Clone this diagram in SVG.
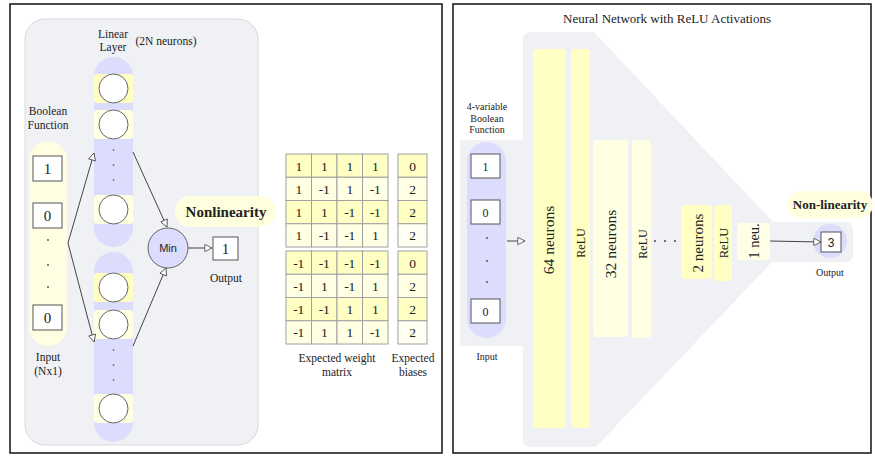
<svg xmlns="http://www.w3.org/2000/svg" width="875" height="456" viewBox="0 0 875 456">
<defs>
<style>
.t{font-family:"Liberation Serif","Times New Roman",serif;fill:#222;text-anchor:middle}
.s{font-family:"Liberation Sans",Arial,sans-serif;fill:#222;text-anchor:middle}
.panel{fill:#fff;stroke:#111;stroke-width:1.5}
.gray{fill:#f0f1f4}
.lav{fill:#dcdcfc}
.y1{fill:#ffffc4}
.y2{fill:#ffffe4}
.box{fill:#fff;stroke:#555;stroke-width:1}
.neu{fill:#fff;stroke:#666;stroke-width:1}
.cell{stroke:#a0a0a0;stroke-width:1}
.conn{fill:none;stroke:#444;stroke-width:1}
.dot{fill:#444}
</style>
<marker id="arr" viewBox="0 0 10 10" refX="9.5" refY="5" markerWidth="9" markerHeight="8" markerUnits="userSpaceOnUse" orient="auto">
<path d="M0.5,0.5 L9.5,5 L0.5,9.5 Z" fill="#fff" stroke="#444" stroke-width="1"/>
</marker>
</defs>

<!-- LEFT PANEL -->
<g id="left-panel">
<rect class="panel" x="10" y="4" width="432" height="449"/>
<rect x="25" y="19" width="233" height="426" rx="20" fill="#f0f1f4" stroke="#d8dae0"/>
</g>

<g id="input-column">
<rect x="29" y="141" width="38" height="205" rx="19" fill="#fffee3"/>
<rect class="box" x="33" y="156" width="29" height="25"/>
<text class="t" x="47.5" y="174" font-size="15">1</text>
<rect class="box" x="33" y="203" width="29" height="25"/>
<text class="t" x="47.5" y="221" font-size="15">0</text>
<circle class="dot" cx="48" cy="240" r="0.9"/>
<circle class="dot" cx="48" cy="265" r="0.9"/>
<circle class="dot" cx="48" cy="287" r="0.9"/>
<rect class="box" x="33" y="305" width="29" height="25"/>
<text class="t" x="47.5" y="323" font-size="15">0</text>
<text class="t" x="48" y="115" font-size="11.5">Boolean</text>
<text class="t" x="48" y="129" font-size="11.5">Function</text>
<text class="t" x="48" y="361" font-size="11.5">Input</text>
<text class="t" x="48" y="375" font-size="11.5">(Nx1)</text>
</g>

<g id="linear-layer-top">
<rect class="lav" x="94" y="57" width="39" height="190" rx="19.5"/>
<rect class="y1" x="94" y="74" width="39" height="29" rx="3"/>
<circle class="neu" cx="113.5" cy="88.5" r="14.5"/>
<rect class="y2" x="94" y="110" width="39" height="29" rx="3"/>
<circle class="neu" cx="113.5" cy="124.5" r="14.5"/>
<circle class="dot" cx="113.5" cy="150" r="0.8"/>
<circle class="dot" cx="113.5" cy="165" r="0.8"/>
<circle class="dot" cx="113.5" cy="180" r="0.8"/>
<rect class="y2" x="94" y="195" width="39" height="29" rx="3"/>
<circle class="neu" cx="113.5" cy="209.5" r="14.5"/>
<text class="t" x="113" y="38" font-size="11.5">Linear</text>
<text class="t" x="113" y="51" font-size="11.5">Layer</text>
<text class="t" x="166" y="45" font-size="11.5">(2N neurons)</text>
</g>

<g id="linear-layer-bottom">
<rect class="lav" x="94" y="252" width="39" height="190" rx="19.5"/>
<rect class="y1" x="94" y="273" width="39" height="29" rx="3"/>
<circle class="neu" cx="113.5" cy="287.5" r="14.5"/>
<rect class="y2" x="94" y="310" width="39" height="29" rx="3"/>
<circle class="neu" cx="113.5" cy="324.5" r="14.5"/>
<circle class="dot" cx="113.5" cy="350" r="0.8"/>
<circle class="dot" cx="113.5" cy="365" r="0.8"/>
<circle class="dot" cx="113.5" cy="380" r="0.8"/>
<rect class="y2" x="94" y="394" width="39" height="29" rx="3"/>
<circle class="neu" cx="113.5" cy="408.5" r="14.5"/>
</g>

<g id="nonlinearity-label">
<rect x="175" y="196" width="101" height="31" rx="15.5" fill="#ffffe0"/>
<text class="t" x="226" y="217" font-size="15" font-weight="bold">Nonlinearity</text>
</g>

<g id="min-node">
<circle cx="168" cy="248" r="20" fill="#dcdcfc" stroke="#666"/>
<text class="s" x="168" y="252" font-size="11">Min</text>
</g>

<g id="output-left">
<rect class="box" x="213" y="237" width="25" height="23"/>
<text class="t" x="225.5" y="254" font-size="15">1</text>
<text class="t" x="226" y="282" font-size="11.5">Output</text>
</g>

<g id="connectors-left">
<path class="conn" d="M68,243 L94,153" marker-end="url(#arr)"/>
<path class="conn" d="M68,243 L94,342" marker-end="url(#arr)"/>
<path class="conn" d="M133,152 L167,227" marker-end="url(#arr)"/>
<path class="conn" d="M133,346 L166,268" marker-end="url(#arr)"/>
<path class="conn" d="M188,248 L212,248" marker-end="url(#arr)"/>
</g>

<g id="weight-matrix">
<rect class="cell y1" x="286" y="154" width="25.5" height="23.25"/>
<rect class="cell y1" x="311.5" y="154" width="25.5" height="23.25"/>
<rect class="cell y1" x="337" y="154" width="25.5" height="23.25"/>
<rect class="cell y1" x="362.5" y="154" width="25.5" height="23.25"/>
<rect class="cell y2" x="286" y="177.25" width="25.5" height="23.25"/>
<rect class="cell y2" x="311.5" y="177.25" width="25.5" height="23.25"/>
<rect class="cell y2" x="337" y="177.25" width="25.5" height="23.25"/>
<rect class="cell y2" x="362.5" y="177.25" width="25.5" height="23.25"/>
<rect class="cell y1" x="286" y="200.5" width="25.5" height="23.25"/>
<rect class="cell y1" x="311.5" y="200.5" width="25.5" height="23.25"/>
<rect class="cell y1" x="337" y="200.5" width="25.5" height="23.25"/>
<rect class="cell y1" x="362.5" y="200.5" width="25.5" height="23.25"/>
<rect class="cell y2" x="286" y="223.75" width="25.5" height="23.25"/>
<rect class="cell y2" x="311.5" y="223.75" width="25.5" height="23.25"/>
<rect class="cell y2" x="337" y="223.75" width="25.5" height="23.25"/>
<rect class="cell y2" x="362.5" y="223.75" width="25.5" height="23.25"/>

<rect class="cell y1" x="286" y="251" width="25.5" height="23.25"/>
<rect class="cell y1" x="311.5" y="251" width="25.5" height="23.25"/>
<rect class="cell y1" x="337" y="251" width="25.5" height="23.25"/>
<rect class="cell y1" x="362.5" y="251" width="25.5" height="23.25"/>
<rect class="cell y2" x="286" y="274.25" width="25.5" height="23.25"/>
<rect class="cell y2" x="311.5" y="274.25" width="25.5" height="23.25"/>
<rect class="cell y2" x="337" y="274.25" width="25.5" height="23.25"/>
<rect class="cell y2" x="362.5" y="274.25" width="25.5" height="23.25"/>
<rect class="cell y1" x="286" y="297.5" width="25.5" height="23.25"/>
<rect class="cell y1" x="311.5" y="297.5" width="25.5" height="23.25"/>
<rect class="cell y1" x="337" y="297.5" width="25.5" height="23.25"/>
<rect class="cell y1" x="362.5" y="297.5" width="25.5" height="23.25"/>
<rect class="cell y2" x="286" y="320.75" width="25.5" height="23.25"/>
<rect class="cell y2" x="311.5" y="320.75" width="25.5" height="23.25"/>
<rect class="cell y2" x="337" y="320.75" width="25.5" height="23.25"/>
<rect class="cell y2" x="362.5" y="320.75" width="25.5" height="23.25"/>

<g class="t" font-size="13.5">
<text class="t" x="298.75" y="170.5">1</text><text class="t" x="324.25" y="170.5">1</text><text class="t" x="349.75" y="170.5">1</text><text class="t" x="375.25" y="170.5">1</text>
<text class="t" x="298.75" y="193.75">1</text><text class="t" x="324.25" y="193.75">-1</text><text class="t" x="349.75" y="193.75">1</text><text class="t" x="375.25" y="193.75">-1</text>
<text class="t" x="298.75" y="217">1</text><text class="t" x="324.25" y="217">1</text><text class="t" x="349.75" y="217">-1</text><text class="t" x="375.25" y="217">-1</text>
<text class="t" x="298.75" y="240.25">1</text><text class="t" x="324.25" y="240.25">-1</text><text class="t" x="349.75" y="240.25">-1</text><text class="t" x="375.25" y="240.25">1</text>
<text class="t" x="298.75" y="267.5">-1</text><text class="t" x="324.25" y="267.5">-1</text><text class="t" x="349.75" y="267.5">-1</text><text class="t" x="375.25" y="267.5">-1</text>
<text class="t" x="298.75" y="290.75">-1</text><text class="t" x="324.25" y="290.75">1</text><text class="t" x="349.75" y="290.75">-1</text><text class="t" x="375.25" y="290.75">1</text>
<text class="t" x="298.75" y="314">-1</text><text class="t" x="324.25" y="314">-1</text><text class="t" x="349.75" y="314">1</text><text class="t" x="375.25" y="314">1</text>
<text class="t" x="298.75" y="337.25">-1</text><text class="t" x="324.25" y="337.25">1</text><text class="t" x="349.75" y="337.25">1</text><text class="t" x="375.25" y="337.25">-1</text>
</g>
<text class="t" x="337" y="362" font-size="11.5">Expected weight</text>
<text class="t" x="337" y="376" font-size="11.5">matrix</text>
</g>

<g id="biases">
<rect class="cell y1" x="398" y="154" width="29" height="23.25"/>
<rect class="cell y2" x="398" y="177.25" width="29" height="23.25"/>
<rect class="cell y1" x="398" y="200.5" width="29" height="23.25"/>
<rect class="cell" x="398" y="223.75" width="29" height="23.25" fill="#fffff2"/>
<rect class="cell y1" x="398" y="251" width="29" height="23.25"/>
<rect class="cell y2" x="398" y="274.25" width="29" height="23.25"/>
<rect class="cell y1" x="398" y="297.5" width="29" height="23.25"/>
<rect class="cell" x="398" y="320.75" width="29" height="23.25" fill="#fffff2"/>
<text class="t" x="412.5" y="170.5" font-size="13.5">0</text>
<text class="t" x="412.5" y="193.75" font-size="13.5">2</text>
<text class="t" x="412.5" y="217" font-size="13.5">2</text>
<text class="t" x="412.5" y="240.25" font-size="13.5">2</text>
<text class="t" x="412.5" y="267.5" font-size="13.5">0</text>
<text class="t" x="412.5" y="290.75" font-size="13.5">2</text>
<text class="t" x="412.5" y="314" font-size="13.5">2</text>
<text class="t" x="412.5" y="337.25" font-size="13.5">2</text>
<text class="t" x="413" y="362" font-size="11.5">Expected</text>
<text class="t" x="413" y="376" font-size="11.5">biases</text>
</g>

<!-- RIGHT PANEL -->
<g id="right-panel">
<rect class="panel" x="453" y="4" width="418" height="449"/>
<text class="t" x="667" y="23" font-size="13">Neural Network with ReLU Activations</text>
<rect class="gray" x="460" y="140" width="64" height="206"/>
<path class="gray" d="M523,40 Q523,32 531,32 L594,32 L773,222 L845,222 Q853,222 853,230 L853,254 Q853,262 845,262 L772,262 L596,447 L531,447 Q523,447 523,439 Z"/>
</g>

<g id="input-right">
<rect class="lav" x="467" y="142" width="39" height="196" rx="19.5"/>
<rect class="box" x="471" y="154" width="29" height="24"/>
<text class="t" x="485.5" y="171" font-size="12">1</text>
<rect class="box" x="471" y="200" width="29" height="24"/>
<text class="t" x="485.5" y="217" font-size="12">0</text>
<circle class="dot" cx="487" cy="238" r="0.9"/>
<circle class="dot" cx="487" cy="261" r="0.9"/>
<circle class="dot" cx="487" cy="282" r="0.9"/>
<rect class="box" x="471" y="299" width="29" height="24"/>
<text class="t" x="485.5" y="316" font-size="12">0</text>
<text class="t" x="487" y="110" font-size="10">4-variable</text>
<text class="t" x="487" y="122" font-size="10">Boolean</text>
<text class="t" x="487" y="133" font-size="10">Function</text>
<text class="t" x="487" y="360" font-size="10">Input</text>
</g>

<g id="layer-64">
<rect class="y1" x="533" y="49" width="33" height="379" rx="4"/>
<text class="t" transform="translate(554,240) rotate(-90)" font-size="15.5">64 neurons</text>
</g>
<g id="relu-1">
<rect class="y1" x="571" y="49" width="19" height="379" rx="4"/>
<text class="t" transform="translate(584.5,243) rotate(-90)" font-size="12">ReLU</text>
</g>
<g id="layer-32">
<rect class="y2" x="593" y="140" width="35" height="197" rx="4"/>
<text class="t" transform="translate(616,244) rotate(-90)" font-size="15.5">32 neurons</text>
</g>
<g id="relu-2">
<rect class="y2" x="632" y="140" width="19" height="198" rx="4"/>
<text class="t" transform="translate(646.5,244) rotate(-90)" font-size="12">ReLU</text>
</g>
<g id="ellipsis">
<circle class="dot" cx="655" cy="241" r="1"/>
<circle class="dot" cx="665" cy="241" r="1"/>
<circle class="dot" cx="675" cy="241" r="1"/>
</g>
<g id="layer-2">
<rect class="y1" x="681" y="205" width="31" height="74" rx="4"/>
<text class="t" transform="translate(702.5,243) rotate(-90)" font-size="15">2 neurons</text>
</g>
<g id="relu-3">
<rect class="y1" x="714" y="205" width="18" height="76" rx="4"/>
<text class="t" transform="translate(727.5,243) rotate(-90)" font-size="12.5">ReLU</text>
</g>
<g id="layer-1">
<rect x="737" y="223" width="33" height="37" rx="4" fill="#ffffe6"/>
<text class="t" transform="translate(758.5,241) rotate(-90)" font-size="14.5">1 neu.</text>
</g>

<g id="output-right">
<circle cx="830" cy="241" r="17" fill="#dcdcfc"/>
<rect class="box" x="821" y="232" width="20" height="20"/>
<text class="s" x="831" y="246.5" font-size="12">3</text>
<text class="t" x="830" y="276" font-size="10">Output</text>
</g>
<g id="nonlinearity-right">
<rect x="787" y="191" width="86" height="27" rx="13.5" fill="#ffffe0"/>
<text class="t" x="830" y="209" font-size="13" font-weight="bold">Non-linearity</text>
</g>

<g id="connectors-right">
<path class="conn" d="M507,241 L525,241" marker-end="url(#arr)"/>
<path class="conn" d="M770,241 L821,242" marker-end="url(#arr)"/>
</g>
</svg>
